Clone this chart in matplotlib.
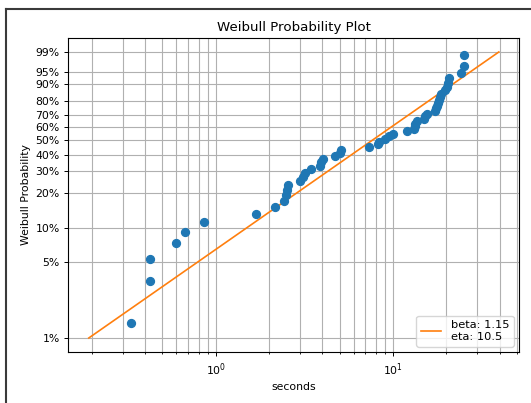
import numpy as np
import matplotlib
matplotlib.use("Agg")
import matplotlib.pyplot as plt
from matplotlib.lines import Line2D
from matplotlib.ticker import FixedLocator, FixedFormatter, NullLocator

# failure times (seconds), sorted
times = [0.333, 0.426, 0.426, 0.60, 0.667, 0.856, 1.68, 2.16, 2.43, 2.48,
         2.51, 2.56, 2.97, 3.12, 3.2, 3.46, 3.88, 3.94, 4.03, 4.74,
         5.04, 5.1, 7.29, 8.24, 8.3, 9.05, 9.53, 10.0, 12.0, 13.1,
         13.3, 13.4, 13.6, 14.9, 15.1, 15.6, 17.3, 17.5, 17.7, 17.9,
         18.1, 18.4, 18.7, 19.8, 20.1, 20.4, 20.6, 24.1, 25.2, 25.2]
# plotting positions (cumulative probability)
probs = [0.0139, 0.0337, 0.0536, 0.0734, 0.0933, 0.1131, 0.1329, 0.1528, 0.1726, 0.1925,
         0.2123, 0.2321, 0.2520, 0.2718, 0.2917, 0.3115, 0.3313, 0.3512, 0.3710, 0.3909,
         0.4107, 0.4306, 0.4504, 0.4702, 0.4901, 0.5099, 0.5298, 0.5496, 0.5694, 0.5893,
         0.6091, 0.6290, 0.6488, 0.6687, 0.6885, 0.7083, 0.7282, 0.7480, 0.7679, 0.7877,
         0.8075, 0.8274, 0.8472, 0.8671, 0.8869, 0.9067, 0.9266, 0.9464, 0.9663, 0.9861]

# fitted line endpoints
fit_x = [0.192, 39.6]
fit_p = [0.01, 0.99]
fit_label = "beta: 1.15\neta: 10.5"

ytick_vals = [0.01, 0.05, 0.10, 0.20, 0.30, 0.40, 0.50, 0.60, 0.70, 0.80, 0.90, 0.95, 0.99]
ytick_labels = ["1%", "5%", "10%", "20%", "30%", "40%", "50%", "60%", "70%", "80%", "90%", "95%", "99%"]


def fwd(p):
    p = np.clip(np.asarray(p, dtype=float), 1e-12, 1 - 1e-12)
    return np.log(-np.log(1 - p))


def inv(t):
    return 1 - np.exp(-np.exp(np.asarray(t, dtype=float)))


FS = 7.8
fig = plt.figure(figsize=(5.31, 4.03), dpi=100)
ax = fig.add_axes([0.1286, 0.1258, 0.8494, 0.7807])

ax.set_xscale("log")
ax.set_yscale("function", functions=(fwd, inv))

ax.scatter(times, probs, s=32, color="#1f77b4", zorder=3)
ax.plot(fit_x, fit_p, color="#ff7f0e", lw=1.2, label=fit_label, zorder=2)

ax.yaxis.set_major_locator(FixedLocator(ytick_vals))
ax.yaxis.set_major_formatter(FixedFormatter(ytick_labels))
ax.yaxis.set_minor_locator(NullLocator())

ax.grid(True, which="both", color="#b0b0b0", lw=0.8)
ax.set_axisbelow(True)

ax.tick_params(labelsize=FS, length=2.8, width=0.7)
ax.tick_params(which="minor", length=1.6, width=0.6)
for s in ax.spines.values():
    s.set_linewidth(0.8)

ax.set_title("Weibull Probability Plot", fontsize=9.6, pad=5)
ax.set_xlabel("seconds", fontsize=FS, labelpad=3)
ax.set_ylabel("Weibull Probability", fontsize=FS, labelpad=3)
ax.legend(loc="lower right", fontsize=8.2, handlelength=1.8)

# outer frame (left and top edges)
fig.add_artist(Line2D([5.5 / 531, 5.5 / 531], [0, 1 - 9 / 403], transform=fig.transFigure,
                      color="#3a3a3a", lw=1.5))
fig.add_artist(Line2D([5.5 / 531, 1], [1 - 9 / 403, 1 - 9 / 403], transform=fig.transFigure,
                      color="#3a3a3a", lw=1.5))

fig.savefig("out.png", dpi=100)
